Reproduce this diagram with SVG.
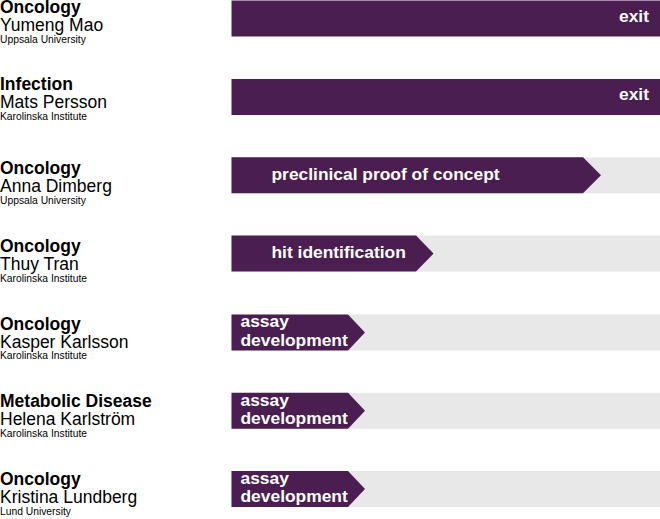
<svg xmlns="http://www.w3.org/2000/svg" width="660" height="519" viewBox="0 0 660 519">
<style>
.area{font-family:"Liberation Sans",Arial,sans-serif;font-weight:bold;font-size:17.5px;fill:#000}
.name{font-family:"Liberation Sans",Arial,sans-serif;font-size:17.5px;fill:#000}
.inst{font-family:"Liberation Sans",Arial,sans-serif;font-size:10.3px;fill:#000}
.track{fill:#e8e8e8}
.bar{fill:#4a1e50}
.lbl{font-family:"Liberation Sans",Arial,sans-serif;font-weight:bold;font-size:17.4px;fill:#fff}
</style>
<rect width="660" height="519" fill="#fff"/>
<g id="row1">
<text class="area" x="0" y="13">Oncology</text>
<text class="name" x="0" y="30.8">Yumeng Mao</text>
<text class="inst" x="0" y="42.7">Uppsala University</text>
<rect class="bar" x="231.5" y="0.5" width="428.5" height="36"/>
<text class="lbl" x="649" y="21.5" text-anchor="end">exit</text>
</g>
<g id="row2">
<text class="area" x="0" y="90.3">Infection</text>
<text class="name" x="0" y="108.1">Mats Persson</text>
<text class="inst" x="0" y="119.8">Karolinska Institute</text>
<rect class="bar" x="231.5" y="79" width="428.5" height="36"/>
<text class="lbl" x="649" y="100" text-anchor="end">exit</text>
</g>
<g id="row3">
<text class="area" x="0" y="174.2">Oncology</text>
<text class="name" x="0" y="192">Anna Dimberg</text>
<text class="inst" x="0" y="203.7">Uppsala University</text>
<rect class="track" x="231.5" y="157.3" width="428.5" height="36"/>
<polygon class="bar" points="231.5,157.3 583,157.3 601,175.3 583,193.3 231.5,193.3"/>
<text class="lbl" x="271.5" y="179.5">preclinical proof of concept</text>
</g>
<g id="row4">
<text class="area" x="0" y="252">Oncology</text>
<text class="name" x="0" y="269.8">Thuy Tran</text>
<text class="inst" x="0" y="281.5">Karolinska Institute</text>
<rect class="track" x="231.5" y="235.6" width="428.5" height="36"/>
<polygon class="bar" points="231.5,235.6 416,235.6 433.5,253.6 416,271.6 231.5,271.6"/>
<text class="lbl" x="271.5" y="257.8">hit identification</text>
</g>
<g id="row5">
<text class="area" x="0" y="329.7">Oncology</text>
<text class="name" x="0" y="347.5">Kasper Karlsson</text>
<text class="inst" x="0" y="359.2">Karolinska Institute</text>
<rect class="track" x="231.5" y="314.5" width="428.5" height="36"/>
<polygon class="bar" points="231.5,314.5 348,314.5 365,332.5 348,350.5 231.5,350.5"/>
<text class="lbl" x="240.5" y="327.3">assay</text>
<text class="lbl" x="240.5" y="345.8">development</text>
</g>
<g id="row6">
<text class="area" x="0" y="407.4">Metabolic Disease</text>
<text class="name" x="0" y="425.2">Helena Karlström</text>
<text class="inst" x="0" y="436.9">Karolinska Institute</text>
<rect class="track" x="231.5" y="392.8" width="428.5" height="36"/>
<polygon class="bar" points="231.5,392.8 348,392.8 365,410.8 348,428.8 231.5,428.8"/>
<text class="lbl" x="240.5" y="405.6">assay</text>
<text class="lbl" x="240.5" y="424.1">development</text>
</g>
<g id="row7">
<text class="area" x="0" y="485.1">Oncology</text>
<text class="name" x="0" y="502.9">Kristina Lundberg</text>
<text class="inst" x="0" y="514.6">Lund University</text>
<rect class="track" x="231.5" y="471" width="428.5" height="36"/>
<polygon class="bar" points="231.5,471 348,471 365,489 348,507 231.5,507"/>
<text class="lbl" x="240.5" y="483.8">assay</text>
<text class="lbl" x="240.5" y="502.3">development</text>
</g>
<g id="connectors"/>
</svg>
